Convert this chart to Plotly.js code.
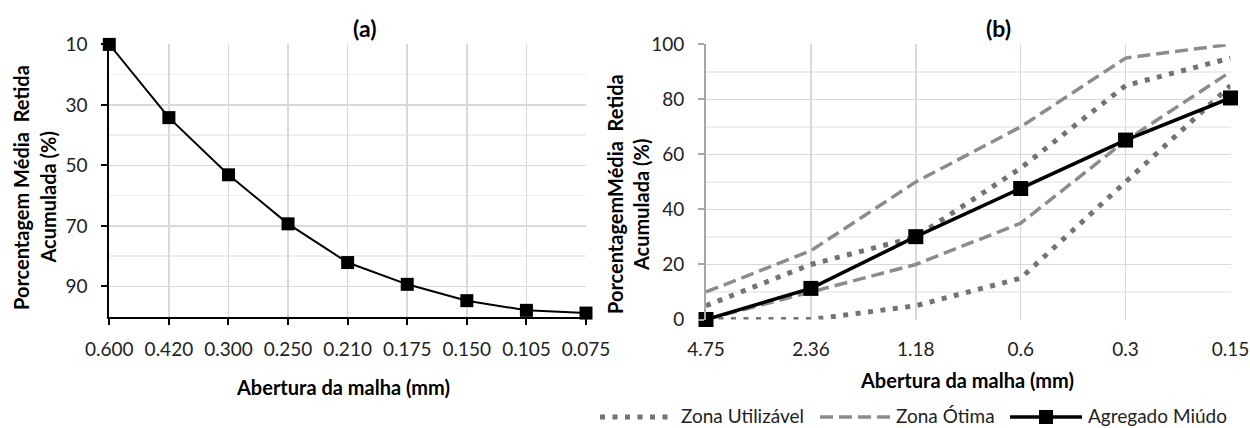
<!DOCTYPE html>
<html>
<head>
<meta charset="utf-8">
<script src="https://cdn.plot.ly/plotly-3.0.1.min.js"></script>
<style>
  html, body { margin: 0; padding: 0; background: #fff; }
  #chart { width: 1250px; height: 428px; }
</style>
</head>
<body>
<div id="chart"></div>
<script>
// ---------- data ----------
// (a) sieve openings (mm) and mean cumulative retained (%)
const sievesA = ["0.600", "0.420", "0.300", "0.250", "0.210", "0.175", "0.150", "0.105", "0.075"];
const retainedA = [10.0, 34.2, 53.1, 69.3, 82.1, 89.3, 94.7, 97.9, 98.8];

// (b) sieve openings (mm)
const sievesB = ["4.75", "2.36", "1.18", "0.6", "0.3", "0.15"];
// Zona Utilizável (dotted) lower / upper limits
const utilLower = [0, 0, 5, 15, 50, 85];
const utilUpper = [5, 20, 30, 55, 85, 95];
// Zona Ótima (dashed) lower / upper limits
const otimaLower = [0, 10, 20, 35, 65, 90];
const otimaUpper = [10, 25, 50, 70, 95, 100];
// Agregado Miúdo
const agregado = [0, 11.3, 30.1, 47.6, 65.2, 80.5];

const yTicksA = [10, 30, 50, 70, 90];
const yTicksB = [0, 20, 40, 60, 80, 100];

const legendNames = ["Zona Utilizável", "Zona Ótima", "Agregado Miúdo"];

// ---------- layout helpers ----------
const W = 1250, H = 428;
const fx = x => x / W;
const fy = y => 1 - y / H;

const FONT = "Lato, 'Open Sans', sans-serif";
const TXT = "#222222";
const DOT_COLOR = "#737373";
const DASH_COLOR = "#8c8c8c";
const DOT_DASH = "5px,7.5px";
const DASH_DASH = "13px,6px";

const traces = [
  {
    x: sievesA, y: retainedA, xaxis: "x", yaxis: "y",
    type: "scatter", mode: "lines+markers", showlegend: false, cliponaxis: false,
    line: { color: "#000", width: 2 },
    marker: { symbol: "square", size: 13, color: "#000" },
    hoverinfo: "skip"
  },
  {
    x: sievesB, y: otimaUpper, xaxis: "x2", yaxis: "y2", name: legendNames[1],
    type: "scatter", mode: "lines", showlegend: false, cliponaxis: false,
    line: { color: DASH_COLOR, width: 3.5, dash: DASH_DASH }, hoverinfo: "skip"
  },
  {
    x: sievesB, y: otimaLower, xaxis: "x2", yaxis: "y2", name: legendNames[1],
    type: "scatter", mode: "lines", showlegend: false, cliponaxis: false,
    line: { color: DASH_COLOR, width: 3.5, dash: DASH_DASH }, hoverinfo: "skip"
  },
  {
    x: sievesB, y: utilUpper, xaxis: "x2", yaxis: "y2", name: legendNames[0],
    type: "scatter", mode: "lines", showlegend: false, cliponaxis: false,
    line: { color: DOT_COLOR, width: 5, dash: DOT_DASH }, hoverinfo: "skip"
  },
  {
    x: sievesB, y: utilLower, xaxis: "x2", yaxis: "y2", name: legendNames[0],
    type: "scatter", mode: "lines", showlegend: false, cliponaxis: false,
    line: { color: DOT_COLOR, width: 5, dash: DOT_DASH }, hoverinfo: "skip"
  },
  {
    x: sievesB, y: agregado, xaxis: "x2", yaxis: "y2", name: legendNames[2],
    type: "scatter", mode: "lines+markers", showlegend: false, cliponaxis: false,
    line: { color: "#000", width: 3.5 },
    marker: { symbol: "square", size: 15, color: "#000" }, hoverinfo: "skip"
  }
];

const tickFont = { family: FONT, size: 19, color: TXT };
const titleFont = { family: FONT, size: 20, color: "#000", weight: "bold" };
const legFont = { family: FONT, size: 19, color: TXT };

const layout = {
  width: W, height: H,
  margin: { l: 0, r: 0, t: 0, b: 0 },
  paper_bgcolor: "#fff", plot_bgcolor: "#fff",
  showlegend: false,
  font: { family: FONT, color: TXT },
  // ----- chart (a) -----
  xaxis: {
    domain: [fx(109.3), fx(586)], anchor: "y",
    type: "category", categoryorder: "array", categoryarray: sievesA,
    range: [0, sievesA.length - 1],
    showgrid: true, gridcolor: "#d9d9d9", gridwidth: 1.5,
    showline: true, linecolor: "#000", linewidth: 2,
    ticks: "outside", ticklen: 6, tickwidth: 2, tickcolor: "#000",
    tickfont: tickFont, ticklabelstandoff: 8, zeroline: false, fixedrange: true
  },
  xaxis3: {
    overlaying: "x", anchor: "y", type: "linear",
    range: [0, sievesA.length - 1],
    tickmode: "array", tickvals: sievesA.map((_, i) => i),
    ticks: "inside", ticklen: 6, tickwidth: 2, tickcolor: "#000",
    showticklabels: false, showgrid: false, showline: false, zeroline: false, fixedrange: true
  },
  yaxis: {
    domain: [fy(316.7), fy(44.4)], anchor: "x",
    range: [100, 10], tickmode: "array", tickvals: yTicksA,
    showgrid: true, gridcolor: "#d9d9d9", gridwidth: 1.5,
    minor: { dtick: 10, showgrid: true, gridcolor: "#eeeeee", gridwidth: 1.5, ticks: "" },
    showline: true, linecolor: "#000", linewidth: 2,
    ticks: "outside", ticklen: 6, tickwidth: 2, tickcolor: "#000",
    tickfont: tickFont, ticklabelstandoff: 10, zeroline: false, fixedrange: true
  },
  yaxis3: {
    overlaying: "y", anchor: "x", side: "left",
    range: [100, 10], tickmode: "array", tickvals: yTicksA,
    ticks: "inside", ticklen: 6, tickwidth: 2, tickcolor: "#000",
    showticklabels: false, showgrid: false, showline: false, zeroline: false, fixedrange: true
  },
  // ----- chart (b) -----
  xaxis2: {
    domain: [fx(706), fx(1230.5)], anchor: "y2",
    type: "category", categoryorder: "array", categoryarray: sievesB,
    range: [0, sievesB.length - 1],
    showgrid: true, gridcolor: "#d9d9d9", gridwidth: 1.5,
    showline: false, ticks: "",
    tickfont: tickFont, ticklabelstandoff: 16, zeroline: false, fixedrange: true
  },
  yaxis2: {
    domain: [fy(319.5), fy(44.3)], anchor: "x2",
    range: [0, 100], tickmode: "array", tickvals: yTicksB,
    showgrid: true, gridcolor: "#d9d9d9", gridwidth: 1.5,
    minor: { dtick: 10, showgrid: true, gridcolor: "#eeeeee", gridwidth: 1.5, ticks: "" },
    showline: true, linecolor: "#a6a6a6", linewidth: 2,
    ticks: "outside", ticklen: 6, tickwidth: 2, tickcolor: "#a6a6a6",
    tickfont: tickFont, ticklabelstandoff: 10, zeroline: false, fixedrange: true
  },
  yaxis4: {
    overlaying: "y2", anchor: "x2", side: "left",
    range: [0, 100], tickmode: "array", tickvals: yTicksB,
    ticks: "inside", ticklen: 6, tickwidth: 2, tickcolor: "#a6a6a6",
    showticklabels: false, showgrid: false, showline: false, zeroline: false, fixedrange: true
  },
  annotations: [
    // chart titles
    { text: "<b>(a)</b>", x: fx(364), y: fy(28), xref: "paper", yref: "paper",
      xanchor: "center", yanchor: "middle", showarrow: false,
      font: { family: FONT, size: 23, color: "#000" } },
    { text: "<b>(b)</b>", x: fx(998), y: fy(28), xref: "paper", yref: "paper",
      xanchor: "center", yanchor: "middle", showarrow: false,
      font: { family: FONT, size: 23, color: "#000" } },
    // x-axis titles
    { text: "<b>Abertura da malha (mm)</b>", x: fx(342.5), y: fy(386.5), xref: "paper", yref: "paper",
      xanchor: "center", yanchor: "middle", showarrow: false, font: titleFont },
    { text: "<b>Abertura da malha (mm)</b>", x: fx(967), y: fy(379.5), xref: "paper", yref: "paper",
      xanchor: "center", yanchor: "middle", showarrow: false, font: titleFont },
    // y-axis titles (a)
    { text: "<b>Porcentagem Média  Retida</b>", x: fx(20.5), y: fy(187.5), xref: "paper", yref: "paper",
      xanchor: "center", yanchor: "middle", textangle: -90, showarrow: false, font: titleFont },
    { text: "<b>Acumulada (%)</b>", x: fx(47.5), y: fy(198), xref: "paper", yref: "paper",
      xanchor: "center", yanchor: "middle", textangle: -90, showarrow: false, font: titleFont },
    // y-axis titles (b)
    { text: "<b>PorcentagemMédia  Retida</b>", x: fx(615), y: fy(194), xref: "paper", yref: "paper",
      xanchor: "center", yanchor: "middle", textangle: -90, showarrow: false, font: titleFont },
    { text: "<b>Acumulada (%)</b>", x: fx(641), y: fy(205), xref: "paper", yref: "paper",
      xanchor: "center", yanchor: "middle", textangle: -90, showarrow: false, font: titleFont },
    // legend labels
    { text: legendNames[0], x: fx(679), y: fy(415), xref: "paper", yref: "paper",
      xanchor: "left", yanchor: "middle", showarrow: false, font: legFont },
    { text: legendNames[1], x: fx(894), y: fy(415), xref: "paper", yref: "paper",
      xanchor: "left", yanchor: "middle", showarrow: false, font: legFont },
    { text: legendNames[2], x: fx(1086), y: fy(415), xref: "paper", yref: "paper",
      xanchor: "left", yanchor: "middle", showarrow: false, font: legFont }
  ],
  shapes: [
    // legend samples
    { type: "line", xref: "paper", yref: "paper", x0: fx(600), x1: fx(672), y0: fy(417), y1: fy(417),
      line: { color: DOT_COLOR, width: 5, dash: DOT_DASH } },
    { type: "line", xref: "paper", yref: "paper", x0: fx(820), x1: fx(890), y0: fy(417), y1: fy(417),
      line: { color: DASH_COLOR, width: 3.5, dash: DASH_DASH } },
    { type: "line", xref: "paper", yref: "paper", x0: fx(1010), x1: fx(1082), y0: fy(417), y1: fy(417),
      line: { color: "#000", width: 3.5 } },
    { type: "rect", xref: "paper", yref: "paper", x0: fx(1039), x1: fx(1053), y0: fy(424), y1: fy(410),
      fillcolor: "#000", line: { width: 0 } }
  ]
};

Plotly.newPlot("chart", traces, layout, { staticPlot: true, displayModeBar: false });
</script>
</body>
</html>
